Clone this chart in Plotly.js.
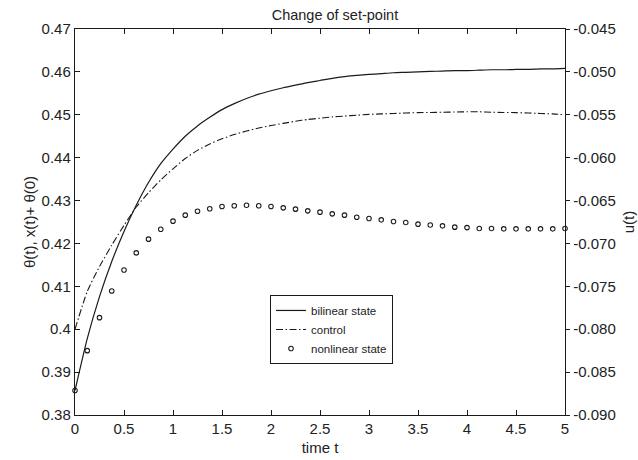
<!DOCTYPE html>
<html>
<head>
<meta charset="utf-8">
<script src="https://cdn.plot.ly/plotly-3.0.1.min.js"></script>
<style>html,body{margin:0;padding:0;background:#fff;}#chart{width:638px;height:460px;}</style>
</head>
<body>
<div id="chart"></div>
<script>
// time grid (s)
var timeT = [0, 0.125, 0.25, 0.375, 0.5, 0.625, 0.75, 0.875, 1.0, 1.125, 1.25, 1.375, 1.5, 1.625, 1.75, 1.875,
  2.0, 2.125, 2.25, 2.375, 2.5, 2.625, 2.75, 2.875, 3.0, 3.125, 3.25, 3.375, 3.5, 3.625, 3.75, 3.875,
  4.0, 4.125, 4.25, 4.375, 4.5, 4.625, 4.75, 4.875, 5.0];

// bilinear state theta(t) (left axis)
var bilinearState = [0.3857, 0.3978, 0.4076, 0.4158, 0.4228, 0.4289, 0.4342, 0.4386, 0.4420, 0.4450, 0.4474, 0.4494,
  0.4512, 0.4526, 0.4538, 0.4548, 0.4556, 0.4563, 0.4569, 0.4575, 0.4580, 0.4585, 0.4589, 0.4592, 0.4594,
  0.4596, 0.4598, 0.4599, 0.4600, 0.4601, 0.4602, 0.4603, 0.4603, 0.4604, 0.4605, 0.4605, 0.4606, 0.4606,
  0.4607, 0.4607, 0.4608];

// control u(t) (right axis)
var controlU = [-0.0800, -0.0756, -0.0727, -0.0702, -0.0679, -0.06575, -0.0641, -0.0626, -0.0613, -0.0601,
  -0.05915, -0.0584, -0.0578, -0.0573, -0.0569, -0.05655, -0.05625, -0.0560, -0.05575, -0.05555, -0.0554,
  -0.05525, -0.05515, -0.05505, -0.05495, -0.0549, -0.05485, -0.0548, -0.05475, -0.05473, -0.0547, -0.05468,
  -0.05465, -0.05465, -0.0547, -0.05473, -0.05475, -0.0548, -0.05485, -0.0549, -0.0550];

// nonlinear state x(t)+theta(0) (left axis)
var nonlinearState = [0.3857, 0.3950, 0.4027, 0.4089, 0.4138, 0.4178, 0.4210, 0.4233, 0.4252, 0.4266, 0.4275,
  0.4281, 0.4286, 0.4288, 0.4289, 0.4288, 0.4286, 0.4283, 0.4280, 0.4276, 0.4273, 0.4269, 0.4266, 0.4261,
  0.4258, 0.4255, 0.4251, 0.4249, 0.4245, 0.4243, 0.4241, 0.4238, 0.4237, 0.4235, 0.4235, 0.4234, 0.4234,
  0.4234, 0.4234, 0.4234, 0.4235];

var seriesNames = ['bilinear state', 'control', 'nonlinear state'];
var rightTicks = [-0.090, -0.085, -0.080, -0.075, -0.070, -0.065, -0.060, -0.055, -0.050, -0.045];
var rightTickText = rightTicks.map(function (v) { return v.toFixed(3); });

var ink = '#1a1a1a';
var font = 'Liberation Sans, Arial, Helvetica, sans-serif';

var traces = [
  {x: timeT, y: bilinearState, name: seriesNames[0], type: 'scatter', mode: 'lines',
   line: {color: ink, width: 1.2, shape: 'spline', smoothing: 0.6}, yaxis: 'y'},
  {x: timeT, y: controlU, name: seriesNames[1], type: 'scatter', mode: 'lines',
   line: {color: ink, width: 1.1, dash: '7px,2.5px,1.5px,2.5px', shape: 'spline', smoothing: 0.6}, yaxis: 'y2'},
  {x: timeT, y: nonlinearState, name: seriesNames[2], type: 'scatter', mode: 'markers',
   marker: {symbol: 'circle-open', size: 4.5, color: ink, line: {width: 1.1, color: ink}},
   cliponaxis: false, yaxis: 'y'}
];

var layout = {
  width: 638, height: 460,
  margin: {l: 75, r: 73, t: 29, b: 45, pad: 0},
  paper_bgcolor: '#fff', plot_bgcolor: '#fff',
  font: {family: font, size: 15, color: '#222'},
  showlegend: true,
  title: {text: 'Change of set-point', x: 0.525, xanchor: 'center', y: 0.9685, yanchor: 'middle',
          font: {family: font, size: 14.5, color: '#222'}},
  xaxis: {range: [0, 5], tick0: 0, dtick: 0.5, ticks: 'inside', ticklen: 5, tickcolor: ink,
          showline: true, linecolor: ink, linewidth: 1.2, mirror: 'ticks', showgrid: false, zeroline: false,
          tickfont: {size: 15}, title: {text: 'time t', standoff: 6, font: {size: 15}}},
  yaxis: {range: [0.38, 0.47], tick0: 0.38, dtick: 0.01, ticks: 'inside', ticklen: 5, tickcolor: ink,
          showline: true, linecolor: ink, linewidth: 1.2, mirror: true, showgrid: false, zeroline: false,
          tickfont: {size: 15}, title: {text: 'θ(t), x(t)+ θ(0)', standoff: 2, font: {size: 15}}},
  yaxis2: {overlaying: 'y', side: 'right', range: [-0.09, -0.045], tickmode: 'array',
           tickvals: rightTicks, ticktext: rightTickText, ticks: 'outside', ticklen: 4, tickcolor: ink,
           showline: true, linecolor: ink, linewidth: 1.2, showgrid: false, zeroline: false,
           tickfont: {size: 15}, title: {text: 'u(t)', standoff: 8, font: {size: 15}}},
  legend: {x: 0.398, y: 0.311, xanchor: 'left', yanchor: 'top', bgcolor: '#fff',
           bordercolor: ink, borderwidth: 1, font: {size: 11.5, color: '#222'}, tracegroupgap: 0}
};

Plotly.newPlot('chart', traces, layout, {displayModeBar: false, staticPlot: true});
</script>
</body>
</html>
